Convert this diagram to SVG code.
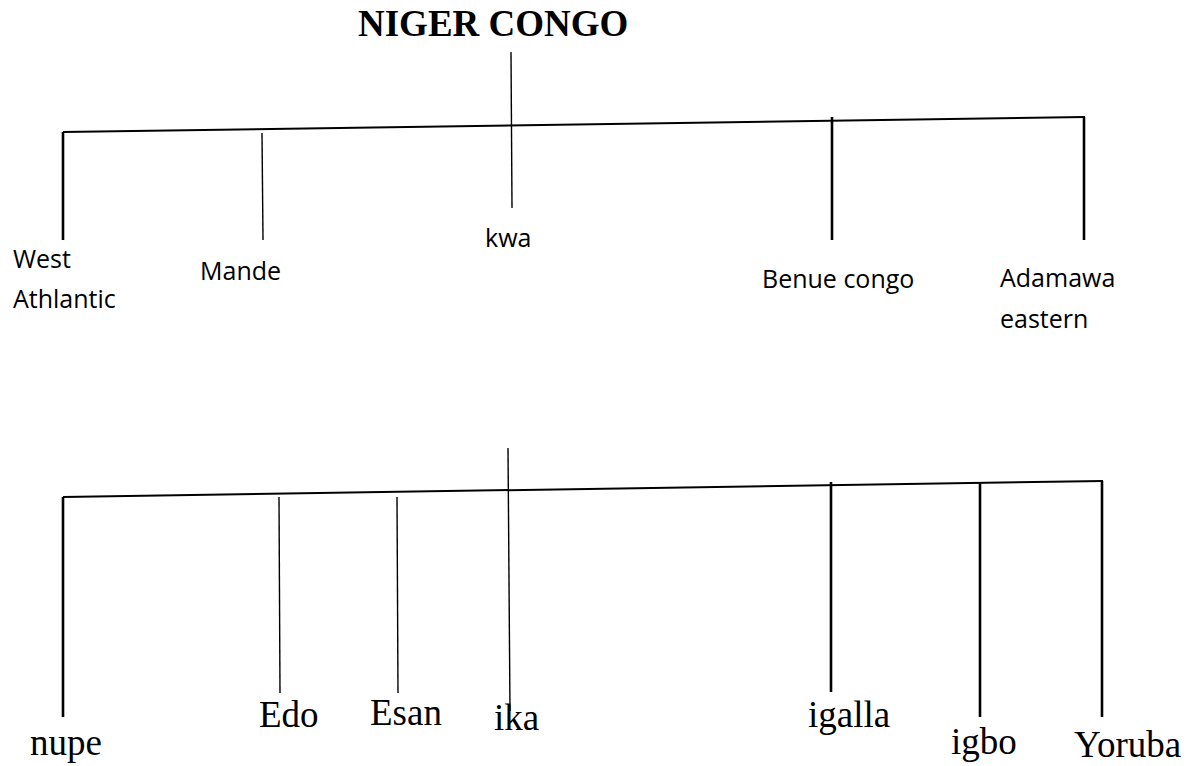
<svg xmlns="http://www.w3.org/2000/svg" width="1200" height="766" viewBox="0 0 1200 766">
<style>
.bg{fill:#fff}
.thick{stroke:#000;stroke-width:2.6;fill:none}
.thin{stroke:#000;stroke-width:1.4;fill:none}
.bar{stroke:#000;stroke-width:2;fill:none}
.title{font-family:"Liberation Serif","Times New Roman",serif;font-weight:bold;font-size:37px;fill:#000}
.sans{font-family:"Open Sans","Liberation Sans",sans-serif;font-size:25px;fill:#000}
.serif{font-family:"Liberation Serif","Times New Roman",serif;font-size:37px;fill:#000}
</style>
<rect class="bg" x="0" y="0" width="1200" height="766"/>
<g id="connectors">
  <line class="thin" x1="511" y1="52" x2="512" y2="208"/>
  <line class="bar" x1="63" y1="132" x2="1085" y2="117"/>
  <line class="thick" x1="63" y1="132" x2="63" y2="240"/>
  <line class="thin" x1="262" y1="133" x2="263" y2="240"/>
  <line class="thick" x1="832" y1="117" x2="832" y2="240"/>
  <line class="thick" x1="1084" y1="117" x2="1084" y2="240"/>
  <line class="bar" x1="63" y1="497" x2="1103" y2="481"/>
  <line class="thin" x1="508" y1="448" x2="510" y2="711"/>
  <line class="thick" x1="63" y1="497" x2="63" y2="717"/>
  <line class="thin" x1="279" y1="497" x2="280" y2="693"/>
  <line class="thin" x1="397" y1="497" x2="398" y2="693"/>
  <line class="thick" x1="831" y1="482" x2="831" y2="692"/>
  <line class="thick" x1="980" y1="482" x2="980" y2="717"/>
  <line class="thick" x1="1102" y1="481" x2="1102" y2="717"/>
</g>
<g id="niger-congo"><text class="title" x="358" y="36">NIGER CONGO</text></g>
<g id="west-athlantic"><text class="sans" x="13" y="268">West</text><text class="sans" x="13" y="308">Athlantic</text></g>
<g id="mande"><text class="sans" x="200" y="280">Mande</text></g>
<g id="kwa"><text class="sans" x="485" y="247">kwa</text></g>
<g id="benue-congo"><text class="sans" x="762" y="288">Benue congo</text></g>
<g id="adamawa-eastern"><text class="sans" x="1000" y="287">Adamawa</text><text class="sans" x="1000" y="328">eastern</text></g>
<g id="nupe"><text class="serif" x="30" y="755">nupe</text></g>
<g id="edo"><text class="serif" x="259" y="727">Edo</text></g>
<g id="esan"><text class="serif" x="370" y="725">Esan</text></g>
<g id="ika"><text class="serif" x="494" y="730">ika</text></g>
<g id="igalla"><text class="serif" x="808" y="727">igalla</text></g>
<g id="igbo"><text class="serif" x="951" y="754">igbo</text></g>
<g id="yoruba"><text class="serif" x="1074" y="757">Yoruba</text></g>
</svg>
